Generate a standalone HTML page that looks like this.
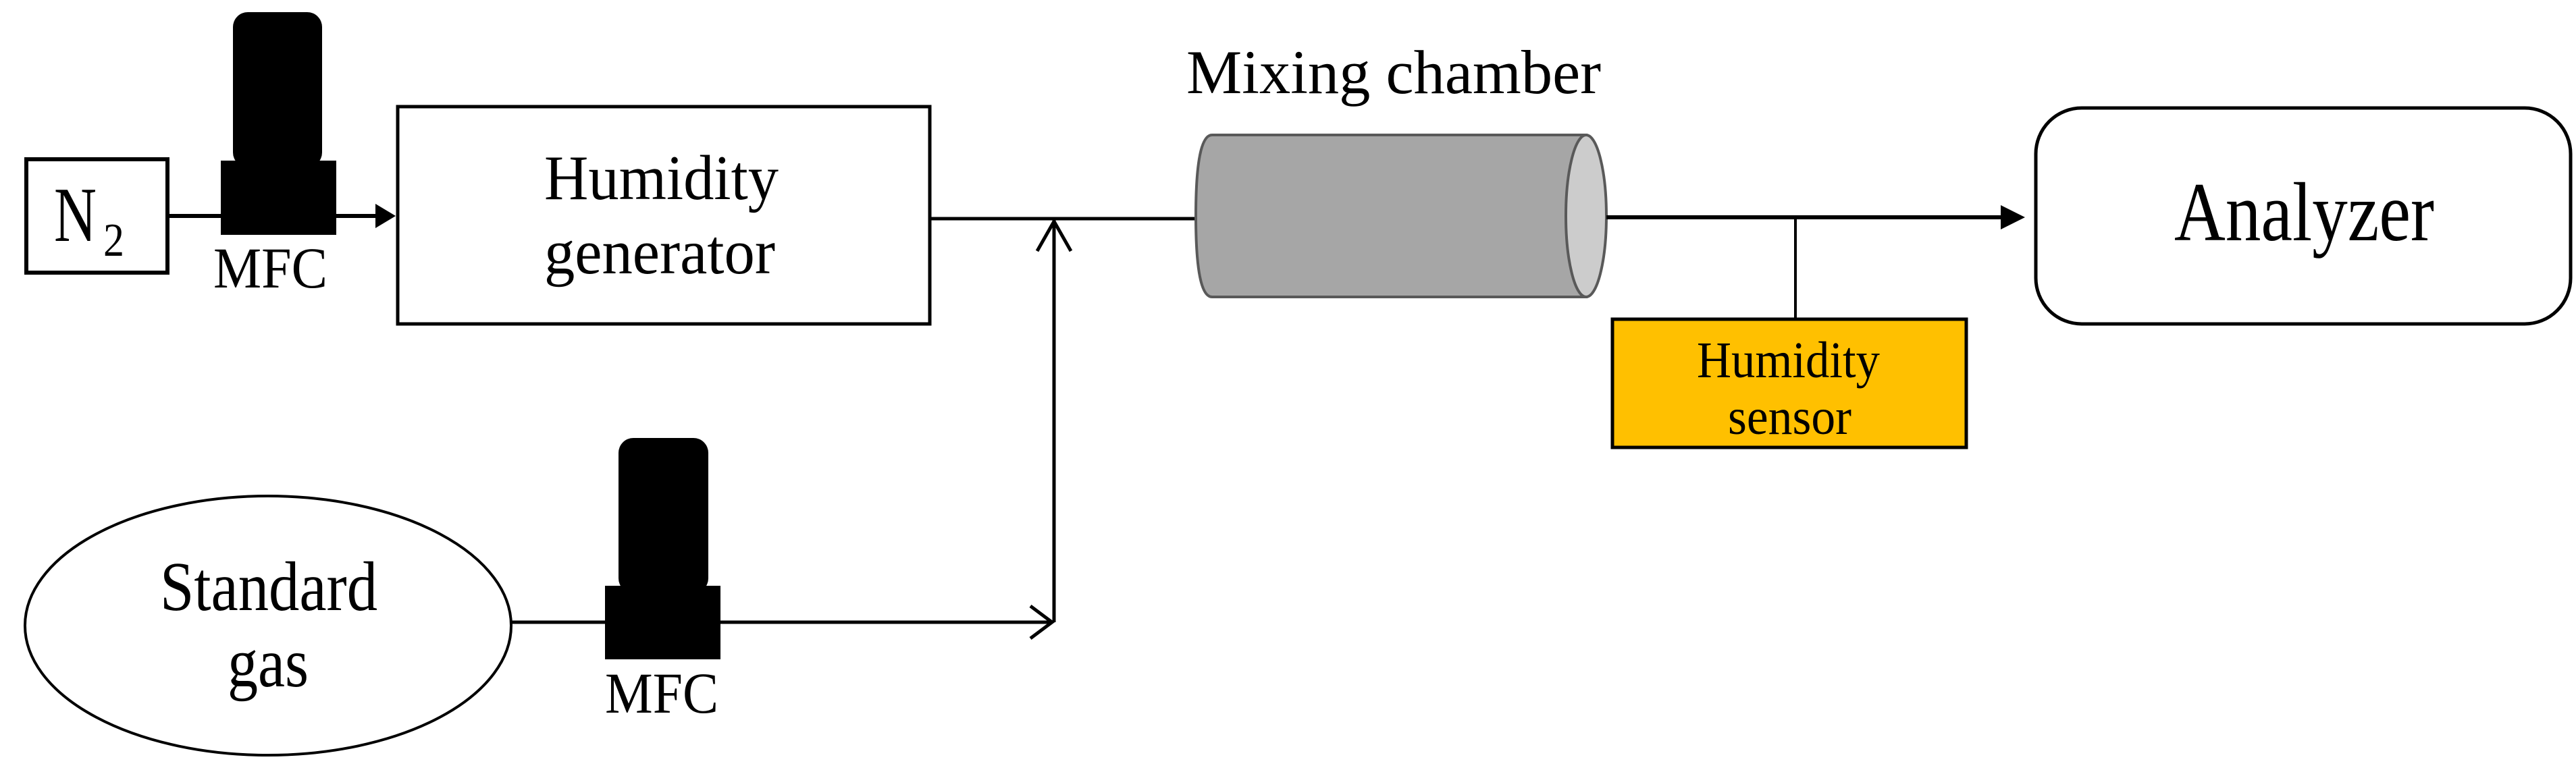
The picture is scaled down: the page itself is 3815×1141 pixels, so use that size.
<!DOCTYPE html>
<html><head><style>html,body{margin:0;padding:0;background:#fff}svg{display:block}</style></head><body>
<svg width="3815" height="1141" viewBox="0 0 3815 1141" xmlns="http://www.w3.org/2000/svg" font-family="Liberation Serif, serif">
<!-- N2 -->
<rect x="39" y="236" width="209" height="168" fill="#fff" stroke="#000" stroke-width="6"/>
<text x="80" y="357" font-size="115" textLength="63" lengthAdjust="spacingAndGlyphs">N</text>
<text x="153" y="379" font-size="70" textLength="31" lengthAdjust="spacingAndGlyphs">2</text>
<!-- N2 line -->
<line x1="248" y1="320" x2="560" y2="320" stroke="#000" stroke-width="6"/>
<polygon points="556,302 586,320 556,338" fill="#000"/>
<!-- MFC1 -->
<rect x="345" y="18" width="132" height="230" rx="22" fill="#000"/>
<rect x="327" y="238" width="171" height="110" fill="#000"/>
<text x="316" y="426" font-size="86" textLength="169" lengthAdjust="spacingAndGlyphs">MFC</text>
<!-- Humidity generator -->
<rect x="589" y="158" width="788" height="322" fill="#fff" stroke="#000" stroke-width="5"/>
<text x="806" y="295" font-size="94" textLength="347" lengthAdjust="spacingAndGlyphs">Humidity</text>
<text x="806" y="405" font-size="94" textLength="342" lengthAdjust="spacingAndGlyphs">generator</text>
<!-- gen out line -->
<line x1="1377" y1="324" x2="1775" y2="324" stroke="#000" stroke-width="5"/>
<!-- vertical -->
<line x1="1561" y1="326" x2="1561" y2="922" stroke="#000" stroke-width="5"/>
<polyline points="1536,372 1561,328 1586,372" fill="none" stroke="#000" stroke-width="5"/>
<!-- standard gas -->
<ellipse cx="397" cy="927" rx="360" ry="192" fill="#fff" stroke="#000" stroke-width="4"/>
<text x="237" y="904" font-size="104" textLength="322" lengthAdjust="spacingAndGlyphs">Standard</text>
<text x="337" y="1017" font-size="104" textLength="120" lengthAdjust="spacingAndGlyphs">gas</text>
<line x1="757" y1="922" x2="1558" y2="922" stroke="#000" stroke-width="5"/>
<polyline points="1526,898 1558,922 1526,946" fill="none" stroke="#000" stroke-width="5"/>
<!-- MFC2 -->
<rect x="916" y="649" width="133" height="230" rx="22" fill="#000"/>
<rect x="896" y="868" width="171" height="109" fill="#000"/>
<text x="896" y="1056" font-size="86" textLength="168" lengthAdjust="spacingAndGlyphs">MFC</text>
<!-- Mixing chamber -->
<text x="1757" y="138" font-size="92" textLength="614" lengthAdjust="spacingAndGlyphs">Mixing chamber</text>
<path d="M1795,200 L2349,200 L2349,440 L1795,440 Q1771,440 1771,320 Q1771,200 1795,200 Z" fill="#a6a6a6" stroke="#595959" stroke-width="4"/>
<ellipse cx="2349" cy="320" rx="30" ry="120" fill="#cccccc" stroke="#595959" stroke-width="4"/>
<!-- out line -->
<line x1="2379" y1="322" x2="2970" y2="322" stroke="#000" stroke-width="6"/>
<polygon points="2963,304 2999,322 2963,340" fill="#000"/>
<line x1="2659" y1="322" x2="2659" y2="472" stroke="#000" stroke-width="4"/>
<!-- sensor -->
<rect x="2388" y="473" width="524" height="190" fill="#ffc000" stroke="#000" stroke-width="5"/>
<text x="2513" y="559" font-size="76" textLength="271" lengthAdjust="spacingAndGlyphs">Humidity</text>
<text x="2559" y="643" font-size="76" textLength="183" lengthAdjust="spacingAndGlyphs">sensor</text>
<!-- Analyzer -->
<rect x="3015" y="160" width="792" height="320" rx="68" fill="#fff" stroke="#000" stroke-width="5"/>
<text x="3220" y="356" font-size="124" textLength="385" lengthAdjust="spacingAndGlyphs">Analyzer</text>
</svg>
</body></html>
